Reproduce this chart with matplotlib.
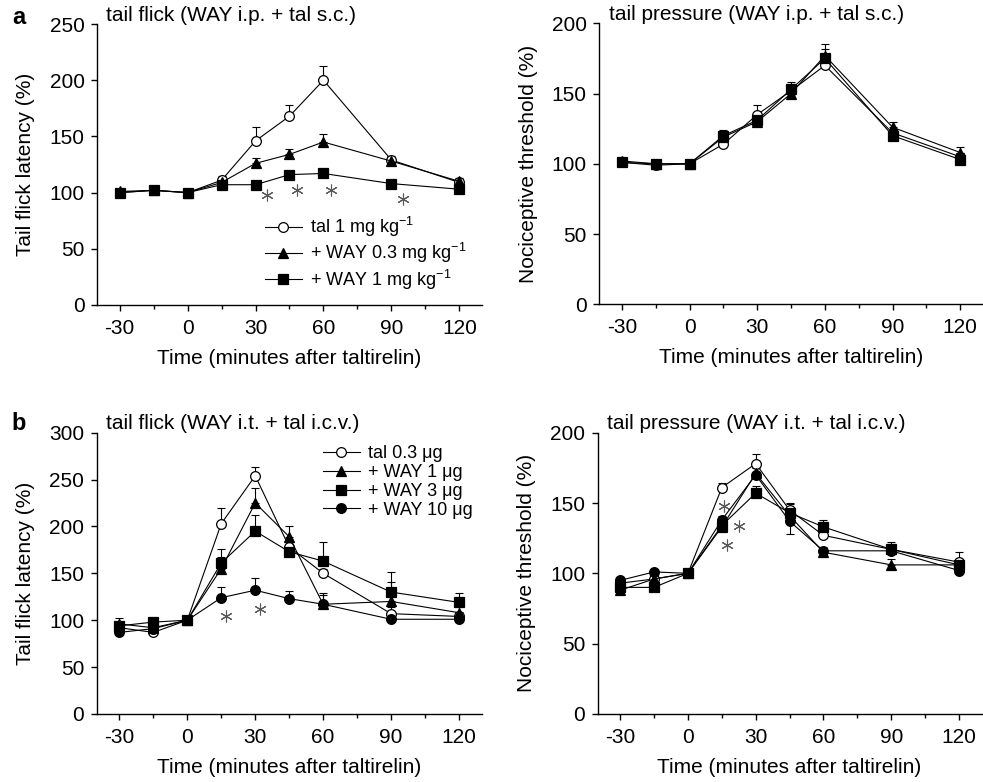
import numpy as np
import matplotlib
matplotlib.use("Agg")
import matplotlib.pyplot as plt

plt.rcParams['font.family'] = ['Liberation Sans', 'DejaVu Sans']
plt.rcParams['mathtext.default'] = 'regular'
plt.rcParams['axes.unicode_minus'] = False

time = [-30, -15, 0, 15, 30, 45, 60, 90, 120]
xticks = [-30, 0, 30, 60, 90, 120]
xminor = [-15, 15, 45, 75, 105]

# a, tail flick (WAY i.p. + tal s.c.)
a1_tal1 = [100, 102, 100, 111, 146, 168, 200, 129, 109]
a1_tal1_err = [2, 2, 1, 4, 12, 10, 13, 4, 3]
a1_way03 = [101, 102, 100, 109, 126, 134, 145, 128, 110]
a1_way03_err = [2, 2, 1, 3, 5, 5, 7, 3, 3]
a1_way1 = [100, 102, 100, 107, 107, 116, 117, 108, 103]
a1_way1_err = [1, 1, 1, 2, 2, 2, 2, 2, 2]
a1_star_x = [35, 48.5, 63.5, 95]
a1_star_y = [98, 102, 102, 94]

# a, tail pressure (WAY i.p. + tal s.c.)
a2_tal1 = [101, 99, 100, 114, 135, 152, 170, 122, 105]
a2_tal1_err = [2, 1, 1, 3, 7, 4, 6, 3, 3]
a2_way03 = [102, 100, 100, 119, 130, 150, 177, 126, 108]
a2_way03_err = [2, 1, 1, 3, 3, 4, 8, 4, 4]
a2_way1 = [101, 100, 100, 120, 131, 153, 175, 120, 103]
a2_way1_err = [2, 1, 1, 4, 3, 5, 7, 3, 3]

# b, tail flick (WAY i.t. + tal i.c.v.)
b1_tal03 = [92, 87, 100, 203, 254, 178, 150, 107, 104]
b1_tal03_err = [4, 3, 2, 17, 9, 8, 5, 7, 5]
b1_way1 = [96, 92, 100, 155, 225, 189, 117, 120, 108]
b1_way1_err = [6, 4, 2, 12, 16, 12, 12, 21, 8]
b1_way3 = [94, 98, 100, 161, 195, 173, 163, 130, 119]
b1_way3_err = [4, 3, 2, 15, 17, 10, 20, 21, 10]
b1_way10 = [87, 91, 100, 124, 132, 123, 117, 101, 101]
b1_way10_err = [3, 3, 2, 11, 13, 8, 10, 3, 3]
b1_star_x = [17, 32]
b1_star_y = [104, 112]

# b, tail pressure (WAY i.t. + tal i.c.v.)
b2_tal03 = [93, 96, 100, 161, 178, 145, 127, 117, 108]
b2_tal03_err = [2, 2, 1, 3, 7, 5, 4, 4, 7]
b2_way1 = [88, 96, 100, 133, 171, 141, 115, 106, 106]
b2_way1_err = [2, 2, 1, 3, 5, 3, 3, 4, 4]
b2_way3 = [90, 90, 100, 134, 157, 143, 133, 117, 106]
b2_way3_err = [2, 2, 1, 3, 5, 6, 5, 5, 4]
b2_way10 = [95, 101, 100, 138, 170, 137, 116, 116, 102]
b2_way10_err = [2, 2, 1, 3, 5, 0, 3, 3, 3]
b2_way10_err_lo = [0, 0, 0, 0, 0, 9, 0, 0, 0]
b2_star_x = [16, 22.5, 17.5]
b2_star_y = [148, 134, 120]

labels_a = ['tal 1 mg kg$^{-1}$', '+ WAY 0.3 mg kg$^{-1}$', '+ WAY 1 mg kg$^{-1}$']
labels_b = ['tal 0.3 μg', '+ WAY 1 μg', '+ WAY 3 μg', '+ WAY 10 μg']

styles = [dict(marker='o', mfc='white'), dict(marker='^', mfc='black'),
          dict(marker='s', mfc='black'), dict(marker='o', mfc='black')]

FS = 15


def setup(ax, ymax, ylabel, title):
	ax.set_xlim(-40, 130)
	ax.set_ylim(0, ymax)
	ax.set_xticks(xticks)
	ax.set_xticklabels([str(t) for t in xticks])
	ax.set_xticks(xminor, minor=True)
	ax.set_yticks(np.arange(0, ymax + 1, 50))
	ax.spines['top'].set_visible(False)
	ax.spines['right'].set_visible(False)
	ax.spines['left'].set_linewidth(1.0)
	ax.spines['bottom'].set_linewidth(1.0)
	ax.tick_params(which='major', direction='out', length=4, width=1, labelsize=FS, pad=5)
	ax.tick_params(which='minor', direction='out', length=3, width=1)
	ax.tick_params(axis='x', which='major', pad=6)
	ax.set_xlabel('Time (minutes after taltirelin)', fontsize=FS, labelpad=8)
	ax.set_ylabel(ylabel, fontsize=FS)
	ax.yaxis.set_label_coords(-0.16, 0.5)
	ax.text(0.024, 1.032, title, transform=ax.transAxes, fontsize=FS, ha='left', va='center')


def series(ax, ys, errs, labels, lo=None):
	handles = []
	for i, (y, e, lab) in enumerate(zip(ys, errs, labels)):
		low = np.zeros(len(y)) if lo is None or lo[i] is None else lo[i]
		ax.errorbar(time, y, yerr=[low, e], fmt='none', ecolor='black', elinewidth=0.8,
			capsize=3, capthick=0.8, zorder=2)
		h, = ax.plot(time, y, color='black', lw=0.8, ms=7, mec='black', mew=0.9,
			label=lab, zorder=3 + i * 0.1, **styles[i])
		handles.append(h)
	return handles


def stars(ax, xs, ys):
	ax.plot(xs, ys, ls='none', marker=(6, 2, 0), ms=8.5, mew=0.8, color='0.35')


fig = plt.figure(figsize=(9.83, 7.82), dpi=100)
ax1 = fig.add_axes([0.0987, 0.6100, 0.3916, 0.3593])
ax2 = fig.add_axes([0.6097, 0.6109, 0.3901, 0.3593])
ax3 = fig.add_axes([0.0984, 0.0870, 0.3916, 0.3597])
ax4 = fig.add_axes([0.6080, 0.0870, 0.3905, 0.3597])

setup(ax1, 250, 'Tail flick latency (%)', 'tail flick (WAY i.p. + tal s.c.)')
h = series(ax1, [a1_tal1, a1_way03, a1_way1], [a1_tal1_err, a1_way03_err, a1_way1_err], labels_a)
stars(ax1, a1_star_x, a1_star_y)
ax1.legend(handles=h, loc='upper left', bbox_to_anchor=(0.436, 0.32), frameon=False,
	fontsize=13, handlelength=2.05, handletextpad=0.45, labelspacing=0.12, borderpad=0,
	borderaxespad=0)

setup(ax2, 200, 'Nociceptive threshold (%)', 'tail pressure (WAY i.p. + tal s.c.)')
series(ax2, [a2_tal1, a2_way03, a2_way1], [a2_tal1_err, a2_way03_err, a2_way1_err], labels_a)

setup(ax3, 300, 'Tail flick latency (%)', 'tail flick (WAY i.t. + tal i.c.v.)')
h = series(ax3, [b1_tal03, b1_way1, b1_way3, b1_way10],
	[b1_tal03_err, b1_way1_err, b1_way3_err, b1_way10_err], labels_b)
stars(ax3, b1_star_x, b1_star_y)
ax3.legend(handles=h, loc='upper left', bbox_to_anchor=(0.587, 0.955), frameon=False,
	fontsize=13, handlelength=2.05, handletextpad=0.45, labelspacing=0.1, borderpad=0,
	borderaxespad=0)

setup(ax4, 200, 'Nociceptive threshold (%)', 'tail pressure (WAY i.t. + tal i.c.v.)')
series(ax4, [b2_tal03, b2_way1, b2_way3, b2_way10],
	[b2_tal03_err, b2_way1_err, b2_way3_err, b2_way10_err], labels_b,
	lo=[None, None, None, b2_way10_err_lo])
stars(ax4, b2_star_x, b2_star_y)

fig.text(0.012, 0.977, 'a', fontsize=17, fontweight='bold', ha='left', va='center')
fig.text(0.012, 0.459, 'b', fontsize=17, fontweight='bold', ha='left', va='center')

fig.savefig('out.png', dpi=100)
